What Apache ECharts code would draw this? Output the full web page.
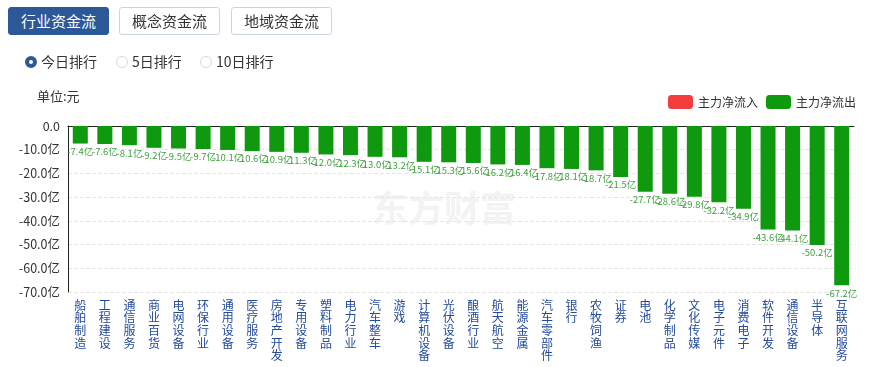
<!DOCTYPE html>
<html>
<head>
<meta charset="utf-8">
<script src="https://cdn.jsdelivr.net/npm/echarts@6/dist/echarts.min.js"></script>
<style>
html,body{margin:0;padding:0;background:#fff;}
#wrap{position:relative;width:875px;height:367px;overflow:hidden;font-family:"Noto Sans CJK SC","Microsoft YaHei",sans-serif;}
#chart{position:absolute;left:0;top:0;width:875px;height:367px;}
.btn{position:absolute;top:7px;height:26px;width:99px;border:1px solid #c9d5e6;border-radius:3px;background:#fff;color:#333;font-size:15px;line-height:26px;text-align:center;box-sizing:content-box;}
.btn.on{background:#2d5898;border-color:#2d5898;color:#fff;}
.radio{position:absolute;top:53px;font-size:14px;color:#333;line-height:16px;height:16px;}
.radio i{display:inline-block;width:10px;height:10px;border-radius:50%;border:1px solid #cfd8e4;vertical-align:-1px;margin-right:4px;background:#fff;}
.radio.on i{border:4px solid #2d5898;width:4px;height:4px;}
</style>
</head>
<body>
<div id="wrap">
<div id="chart"></div>
<div class="btn on" style="left:8px;">行业资金流</div>
<div class="btn" style="left:119px;">概念资金流</div>
<div class="btn" style="left:231px;">地域资金流</div>
<div class="radio on" style="left:25px;"><i></i>今日排行</div>
<div class="radio" style="left:116px;"><i></i>5日排行</div>
<div class="radio" style="left:200px;"><i></i>10日排行</div>
</div>
<script>
var categories = ['船舶制造','工程建设','通信服务','商业百货','电网设备','环保行业','通用设备','医疗服务','房地产开发','专用设备','塑料制品','电力行业','汽车整车','游戏','计算机设备','光伏设备','酿酒行业','航天航空','能源金属','汽车零部件','银行','农牧饲渔','证券','电池','化学制品','文化传媒','电子元件','消费电子','软件开发','通信设备','半导体','互联网服务'];
var netFlow = [-7.4,-7.6,-8.1,-9.2,-9.5,-9.7,-10.1,-10.6,-10.9,-11.3,-12.0,-12.3,-13.0,-13.2,-15.1,-15.3,-15.6,-16.2,-16.4,-17.8,-18.1,-18.7,-21.5,-27.7,-28.6,-29.8,-32.2,-34.9,-43.6,-44.1,-50.2,-67.2];
var yTicks = {min:-70, max:0, interval:10};
var legendNames = ['主力净流入','主力净流出'];

var inflow = netFlow.map(function(v){return v>0?v:null;});
var outflow = netFlow.map(function(v){return v<=0?v:null;});

var chart = echarts.init(document.getElementById('chart'));
var font = '"Noto Sans CJK SC","Microsoft YaHei",sans-serif';
chart.setOption({
  animation:false,
  textStyle:{fontFamily:font},
  graphic:[
    {type:'text',left:37,top:90,style:{text:'单位:元',fill:'#333',font:'13px '+font}},
    {type:'text',left:372,top:190,z:0,style:{text:'东方财富',fill:'#f3f3f3',font:'bold 36px '+font}}
  ],
  legend:{
    right:14,top:90,itemWidth:25,itemHeight:14,itemGap:8,
    textStyle:{color:'#333',fontSize:12},
    data:[{name:legendNames[0],itemStyle:{color:'#f43d3d'}},{name:legendNames[1],itemStyle:{color:'#0f990f'}}]
  },
  grid:{left:68,right:21,top:126,height:166,containLabel:false},
  xAxis:[{
    type:'category',data:categories,position:'bottom',
    axisLine:{show:false,onZero:false},axisTick:{show:false},
    axisLabel:{interval:0,margin:7,color:'#234b9c',fontSize:12,lineHeight:12.6,
      formatter:function(v){return v.split('').join('\n');}}
  },{
    type:'category',data:categories,position:'top',
    axisLine:{show:true,lineStyle:{color:'#222',width:1}},axisTick:{show:false},axisLabel:{show:false}
  }],
  yAxis:{
    type:'value',min:yTicks.min,max:yTicks.max,interval:yTicks.interval,
    axisLine:{show:true,lineStyle:{color:'#222'}},axisTick:{show:false},
    axisLabel:{color:'#333',fontSize:12.5,margin:8,formatter:function(v){return v===0?'0.0':v.toFixed(1)+'亿';}},
    splitLine:{show:true,lineStyle:{color:'#e6e6e6',type:'dashed'}}
  },
  series:[
    {name:legendNames[0],type:'bar',stack:'a',barWidth:15,data:inflow,itemStyle:{color:'#f43d3d'},
     label:{show:true,position:'top',distance:2,fontSize:9.5,color:'#f43d3d',formatter:function(p){return p.value.toFixed(1)+'亿';}}},
    {name:legendNames[1],type:'bar',stack:'a',barWidth:15,data:outflow,itemStyle:{color:'#0f990f'},
     label:{show:true,position:'bottom',distance:3,fontSize:9.5,color:'#3f9f3f',formatter:function(p){return p.value.toFixed(1)+'亿';}}}
  ]
});
</script>
</body>
</html>
